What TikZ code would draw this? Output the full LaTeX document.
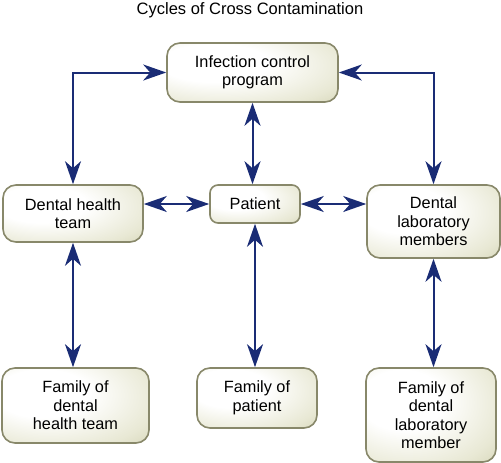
\documentclass[tikz,border=0pt]{standalone}
\usepackage{fontspec}
\setmainfont{Liberation Sans}
\usetikzlibrary{arrows.meta}
\definecolor{navy}{HTML}{1A2C75}
\definecolor{boxedge}{HTML}{88886A}
\definecolor{boxdark}{HTML}{C2C29A}
\definecolor{boxmid}{HTML}{E8E8D4}
\pgfdeclareradialshading{boxshade}{\pgfpoint{-14bp}{10bp}}{color(0bp)=(white); color(16bp)=(white); color(36bp)=(boxmid); color(56bp)=(boxdark); color(80bp)=(boxdark)}
\tikzset{
  x=1pt, y=-1pt,
  cbox/.style={draw=boxedge, line width=1.6pt, rounded corners=13pt,
    shading=boxshade,
    align=center, inner sep=2pt, font=\fontsize{16.3}{18.5}\selectfont},
  conn/.style={draw=navy, line width=2pt,
    {Stealth[length=23pt,width=16pt,inset=7pt]}-{Stealth[length=23pt,width=16pt,inset=7pt]}},
}
\begin{document}
\begin{tikzpicture}
\useasboundingbox (0,0) rectangle (501,463);
\node[anchor=base, font=\fontsize{16.5}{19}\selectfont] (title) at (250,15) {Cycles of Cross Contamination};
\node[cbox, minimum width=171pt, minimum height=59pt] (icp) at (252.5,72.5) {Infection control\\program};
\node[cbox, minimum width=140pt, minimum height=57pt] (dht) at (73,213.5) {Dental health\\team};
\node[cbox, minimum width=90pt, minimum height=38pt, rounded corners=8pt] (pat) at (255,204) {Patient};
\node[cbox, minimum width=133pt, minimum height=73pt] (dlm) at (433.5,221.5) {Dental\\laboratory\\members};
\node[cbox, minimum width=147pt, minimum height=75pt] (fdht) at (75.5,405.5) {Family of\\dental\\health team};
\node[cbox, minimum width=120pt, minimum height=60pt] (fp) at (257,398) {Family of\\patient};
\node[cbox, minimum width=130pt, minimum height=94pt] (fdlm) at (431,415) {Family of\\dental\\laboratory\\member};
\draw[conn] (icp.west) -| (dht.north);
\draw[conn] (icp.east) -| (dlm.north);
\draw[conn] (icp.south) -- (icp.south |- pat.north);
\draw[conn] (pat.west -| dht.east) -- (pat.west);
\draw[conn] (pat.east) -- (pat.east -| dlm.west);
\draw[conn] (dht.south) -- (dht.south |- fdht.north);
\draw[conn] (pat.south) -- (pat.south |- fp.north);
\draw[conn] (dlm.south) -- (dlm.south |- fdlm.north);
\end{tikzpicture}
\end{document}
